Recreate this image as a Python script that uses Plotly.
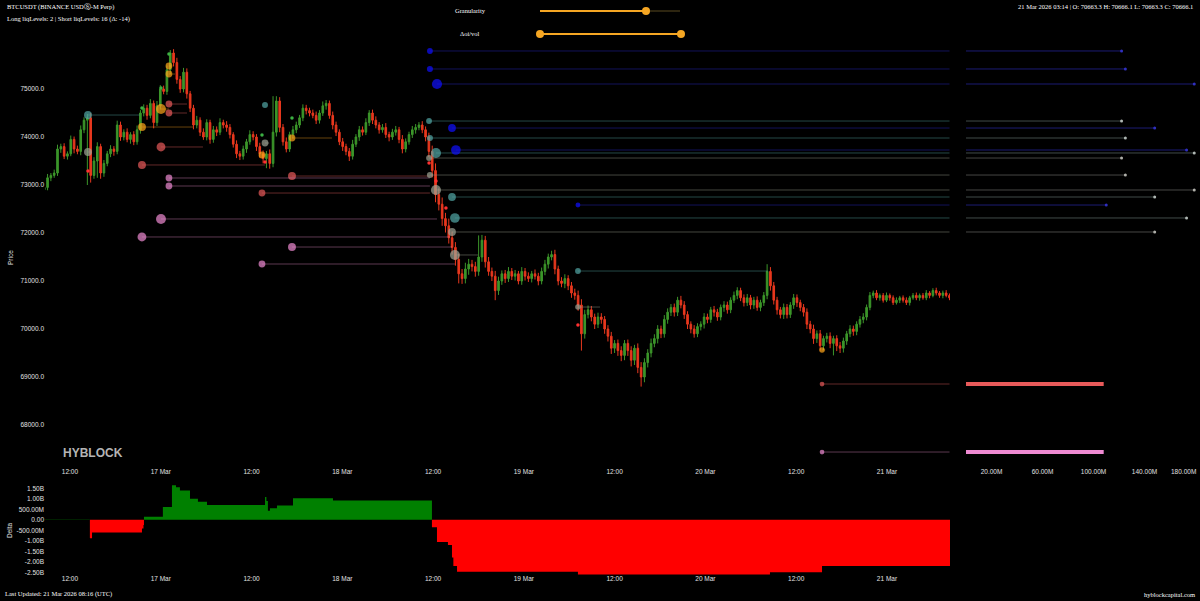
import numpy as np
import pandas as pd
import plotly.graph_objects as go

# ---------------- DATA ----------------
candle_start = "2026-03-16 08:36"
candle_end = "2026-03-21 08:16"
first_open = 72900
closes = [
    72950, 73150, 73200, 73250, 73750, 73800, 73600, 73650, 73950, 73750,
    73700, 74150, 74350, 74400, 73200, 73500, 73800, 73250, 73450, 73650,
    73750, 73700, 74250, 74000, 74100, 73950, 74050, 73900, 74150, 74500,
    74600, 74450, 74700, 74300, 74650, 75000, 74950, 75400, 75750, 75550,
    75200, 75000, 75350, 74900, 74600, 74250, 74350, 74100, 74000, 74300,
    73950, 74150, 74100, 74300, 74250, 74200, 74050, 73850, 73650, 73600,
    73750, 73900, 74050, 74000, 73800, 73650, 73550, 73650, 73450, 74100,
    74750, 74200, 73900, 73750, 74050, 74150, 74250, 74400, 74600, 74550,
    74500, 74450, 74350, 74500, 74650, 74700, 74450, 74250, 74100, 73900,
    73800, 73700, 73600, 73850, 74000, 74150, 74100, 74300, 74500, 74350,
    74250, 74150, 74200, 74050, 74000, 74100, 74150, 73950, 73750, 73900,
    74050, 74150, 74200, 74250, 74150, 74000, 73700, 73300, 72800, 72600,
    72300, 72150, 71900, 71700, 71450, 71150, 71050, 71250, 71350, 71300,
    71200, 71500, 71850, 71400, 71200, 71100, 70800, 71000, 71150, 71050,
    71200, 71100, 71150, 71000, 71200, 71100, 71050, 71150, 71100, 71000,
    71200, 71350, 71500, 71550, 71250, 71000, 70950, 71050, 70900, 70750,
    70700, 70500, 69900, 70300, 70400, 70250, 70100, 70250, 70200, 70000,
    69850, 69600, 69700, 69550, 69450, 69700, 69550, 69350, 69600, 69200,
    69000, 69300, 69500, 69700, 69800, 70000, 69900, 70200, 70350, 70450,
    70350, 70600, 70500, 70300, 70100, 70000, 69900, 70050, 70100, 70250,
    70200, 70400, 70350, 70250, 70450, 70500, 70400, 70600, 70700, 70800,
    70650, 70550, 70650, 70500, 70600, 70450, 70550, 70700, 71200, 70900,
    70600, 70400, 70300, 70450, 70300, 70500, 70650, 70550, 70450, 70350,
    70100, 70000, 69800, 69900, 69650, 69800, 69850, 69700, 69800, 69650,
    69600, 69750, 69900, 70000, 69950, 70100, 70200, 70250, 70450, 70700,
    70750, 70650, 70700, 70600, 70700, 70650, 70550, 70600, 70650, 70600,
    70550, 70650, 70700, 70650, 70700, 70650, 70750, 70700, 70800, 70750,
    70700, 70750, 70700, 70650,
]
# wick extents above max(open, close) and below min(open, close), USD
wick_up = [
    60, 80, 50, 70, 90, 60, 70, 50, 80, 60,
    70, 90, 60, 80, 100, 80, 90, 60, 70, 60,
    80, 60, 90, 70, 60, 80, 50, 70, 90, 60,
    80, 70, 90, 60, 100, 80, 70, 90, 60, 80,
    100, 70, 90, 80, 60, 70, 90, 60, 80, 70,
    60, 80, 70, 90, 60, 80, 70, 50, 80, 60,
    70, 60, 90, 70, 60, 80, 70, 60, 90, 120,
    100, 80, 70, 90, 60, 80, 70, 60, 80, 70,
    60, 70, 80, 60, 90, 70, 60, 80, 70, 60,
    80, 60, 70, 90, 60, 80, 70, 90, 60, 70,
    80, 60, 70, 90, 60, 70, 80, 60, 90, 70,
    60, 80, 70, 60, 80, 70, 90, 120, 150, 130,
    140, 120, 150, 130, 110, 120, 100, 130, 110, 90,
    100, 120, 110, 90, 100, 80, 110, 90, 70, 80,
    90, 70, 80, 60, 90, 70, 80, 60, 90, 70,
    80, 90, 70, 80, 100, 70, 80, 90, 70, 80,
    90, 100, 120, 100, 90, 80, 70, 90, 80, 70,
    80, 90, 70, 80, 90, 70, 80, 90, 70, 100,
    110, 90, 80, 100, 90, 80, 70, 90, 80, 70,
    80, 70, 90, 80, 70, 60, 80, 70, 60, 80,
    70, 60, 80, 70, 60, 80, 70, 60, 80, 70,
    60, 70, 80, 60, 70, 80, 60, 70, 100, 90,
    80, 70, 60, 80, 70, 60, 80, 70, 60, 70,
    80, 70, 90, 70, 80, 60, 70, 80, 60, 70,
    80, 70, 60, 80, 70, 60, 70, 80, 60, 70,
    50, 60, 40, 50, 60, 40, 50, 60, 40, 50,
    60, 40, 50, 60, 40, 50, 60, 40, 50, 60,
    40, 50, 60, 40,
]
wick_dn = [
    80, 60, 70, 50, 60, 80, 60, 70, 50, 90,
    60, 80, 70, 60, 150, 70, 60, 120, 80, 60,
    70, 90, 60, 80, 70, 60, 90, 70, 60, 80,
    70, 90, 60, 120, 70, 80, 60, 70, 90, 80,
    90, 80, 70, 100, 80, 90, 70, 80, 60, 70,
    90, 70, 80, 60, 70, 90, 80, 70, 90, 80,
    70, 80, 60, 70, 90, 80, 100, 70, 110, 80,
    90, 100, 80, 70, 60, 80, 70, 60, 70, 80,
    70, 60, 80, 70, 60, 80, 70, 90, 80, 70,
    90, 80, 100, 70, 60, 80, 70, 60, 70, 80,
    70, 80, 60, 70, 90, 60, 70, 80, 90, 70,
    60, 70, 80, 60, 70, 90, 120, 140, 160, 130,
    150, 140, 120, 150, 130, 140, 110, 100, 120, 100,
    110, 90, 100, 120, 90, 100, 130, 90, 80, 90,
    70, 80, 90, 70, 80, 90, 70, 80, 70, 90,
    70, 80, 90, 70, 110, 90, 80, 100, 90, 100,
    90, 120, 150, 100, 80, 90, 100, 80, 90, 100,
    110, 120, 100, 110, 120, 100, 110, 130, 100, 120,
    140, 110, 100, 90, 80, 100, 90, 80, 90, 80,
    90, 80, 70, 90, 100, 90, 80, 70, 80, 90,
    80, 70, 90, 80, 70, 90, 80, 70, 60, 80,
    70, 80, 70, 90, 80, 70, 80, 70, 80, 100,
    90, 100, 80, 90, 80, 70, 80, 90, 80, 90,
    100, 90, 110, 90, 100, 90, 80, 100, 90, 110,
    100, 90, 80, 70, 90, 80, 70, 80, 70, 60,
    60, 50, 60, 50, 40, 60, 50, 40, 60, 50,
    50, 60, 40, 50, 60, 40, 50, 60, 40, 50,
    50, 60, 40, 50,
]
spike_highs = {
    "2026-03-17 01:05": 75800, "2026-03-17 14:50": 74850,
    "2026-03-18 18:12": 71950, "2026-03-20 08:08": 71350,
    "2026-03-16 14:10": 74450,
}
spike_lows = {
    "2026-03-16 14:30": 73000, "2026-03-16 15:42": 73150,
    "2026-03-17 13:55": 73350, "2026-03-18 15:25": 70950,
    "2026-03-18 20:03": 70600, "2026-03-19 07:24": 69550,
    "2026-03-19 15:21": 68800, "2026-03-20 16:44": 69450,
}

# liquidation levels: group, start time, end time (None = still open), price, volume (M)
lvl_group = (["blue"] * 6 + ["teal"] * 8 + ["gray"] * 8 + ["orange"] * 7
             + ["red"] * 7 + ["pink"] * 7)
lvl_start = [
    "2026-03-18 11:35", "2026-03-18 11:35", "2026-03-18 12:31", "2026-03-18 14:30", "2026-03-18 15:01", "2026-03-19 07:09",
    "2026-03-16 14:23", "2026-03-17 13:47", "2026-03-18 11:28", "2026-03-18 11:35", "2026-03-18 12:23", "2026-03-18 14:30", "2026-03-18 14:53", "2026-03-19 07:09",
    "2026-03-16 14:23", "2026-03-17 13:47", "2026-03-18 11:28", "2026-03-18 11:35", "2026-03-18 12:23", "2026-03-18 14:30", "2026-03-18 14:53", "2026-03-19 07:09",
    "2026-03-16 21:31", "2026-03-17 00:02", "2026-03-17 01:05", "2026-03-17 01:05", "2026-03-17 13:23", "2026-03-17 17:21", "2026-03-20 15:25",
    "2026-03-17 00:02", "2026-03-16 21:31", "2026-03-17 01:05", "2026-03-17 01:05", "2026-03-17 17:21", "2026-03-17 13:23", "2026-03-20 15:25",
    "2026-03-17 01:05", "2026-03-17 01:05", "2026-03-17 00:02", "2026-03-16 21:31", "2026-03-17 17:21", "2026-03-17 13:23", "2026-03-20 15:25",
]
lvl_end = [
    None, None, None, None, None, None,
    "2026-03-16 21:15", "2026-03-17 13:47", None, None, None, None, None, "2026-03-20 08:16",
    "2026-03-16 14:50", "2026-03-17 14:20", None, None, None, None, "2026-03-18 17:56", "2026-03-19 10:04",
    "2026-03-17 04:16", "2026-03-17 01:05", "2026-03-17 01:29", "2026-03-17 01:53", "2026-03-17 13:47", "2026-03-17 22:38", "2026-03-20 15:50",
    "2026-03-17 05:35", "2026-03-17 13:47", "2026-03-17 03:28", "2026-03-17 03:28", "2026-03-18 11:35", "2026-03-18 11:35", None,
    "2026-03-18 11:35", "2026-03-18 11:35", "2026-03-18 12:31", "2026-03-18 14:14", "2026-03-18 14:30", "2026-03-18 14:53", None,
]
lvl_price = [
    75792, 75417, 75104, 74187, 73729, 72583,
    74458, 74667, 74333, 73979, 73667, 72750, 72313, 71208,
    73687, 73875, 73562, 73208, 72896, 72021, 71542, 70458,
    74208, 74583, 75479, 75312, 73625, 73979, 69563,
    73792, 73417, 74687, 74500, 73187, 72833, 68854,
    73146, 72979, 72292, 71917, 71708, 71354, 67437,
]
lvl_vol_m = [
    122, 125, 179, 148, 173, 110,
    150, 124, 122, 125, 179, 148, 173, 122,
    150, 135, 122, 125, 179, 148, 176, 118,
    150, 176, 135, 135, 135, 135, 118,
    162, 150, 135, 135, 150, 135, 108,
    135, 135, 176, 162, 150, 135, 108,
]
# tiny liquidation prints
tiny_group = ["green", "green", "green", "green", "green", "red", "red", "red", "red", "red", "red"]
tiny_time = ["2026-03-16 21:31", "2026-03-17 01:05", "2026-03-17 17:21", "2026-03-17 13:23", "2026-03-17 00:02",
             "2026-03-16 14:23", "2026-03-17 13:47", "2026-03-18 11:28", "2026-03-18 12:23", "2026-03-18 13:42", "2026-03-19 07:09"]
tiny_price = [74604, 75729, 74396, 74042, 75020, 73292, 73479, 73458, 73083, 72521, 70083]

# cumulative delta (billions) - step series
delta_times = ["2026-03-16 08:42", "2026-03-16 14:38", "2026-03-16 14:55", "2026-03-16 21:31", "2026-03-16 21:43",
               "2026-03-16 21:47", "2026-03-17 00:17", "2026-03-17 01:29", "2026-03-17 02:01", "2026-03-17 02:32",
               "2026-03-17 03:52", "2026-03-17 04:55", "2026-03-17 06:07", "2026-03-17 13:47", "2026-03-17 13:58",
               "2026-03-17 14:10", "2026-03-17 14:26", "2026-03-17 15:22", "2026-03-17 17:29", "2026-03-17 22:46",
               "2026-03-18 11:51", "2026-03-18 12:31", "2026-03-18 13:58", "2026-03-18 14:30", "2026-03-18 14:41",
               "2026-03-18 15:10", "2026-03-19 07:09", "2026-03-20 08:32", "2026-03-20 15:25", "2026-03-21 08:20"]
delta_vals_b = [0.02, -0.88, -0.6, -0.42, -0.25, 0.15, 0.61, 1.65, 1.55, 1.40, 1.00, 0.86, 0.70, 1.08, 0.90,
                0.43, 0.55, 0.68, 1.03, 0.92, -0.36, -1.06, -1.2, -1.8, -2.2, -2.47, -2.6, -2.5, -2.2, -2.2]

# tick labels
date_tick_vals = ["2026-03-16 12:00", "2026-03-17 00:00", "2026-03-17 12:00", "2026-03-18 00:00", "2026-03-18 12:00",
                  "2026-03-19 00:00", "2026-03-19 12:00", "2026-03-20 00:00", "2026-03-20 12:00", "2026-03-21 00:00"]
date_tick_text = ["12:00", "17 Mar", "12:00", "18 Mar", "12:00", "19 Mar", "12:00", "20 Mar", "12:00", "21 Mar"]
price_ticks = [68000, 69000, 70000, 71000, 72000, 73000, 74000, 75000]
delta_tick_vals_b = [-2.5, -2.0, -1.5, -1.0, -0.5, 0.0, 0.5, 1.0, 1.5]
delta_tick_text = ["-2.50B", "-2.00B", "-1.50B", "-1.00B", "-500.00M", "0.00", "500.00M", "1.00B", "1.50B"]
vol_tick_vals_m = [20, 60, 100, 140]
vol_tick_text = ["20.00M", "60.00M", "100.00M", "140.00M"]
vol_edge_label = "180.00M"

# ---------------- FIGURE ----------------
W, H = 1200, 601
def fx(p): return p / W
def fy(p): return 1 - p / H

MAIN_L, MAIN_R, MAIN_T, MAIN_B = 45, 950, 45, 464
RP_L, RP_PX_PER_M = 966, 1.275
D_T, D_B = 482, 576

# candles
ts = pd.date_range(candle_start, candle_end, periods=len(closes))
opens = [first_open] + closes[:-1]
highs = [max(o, c) + w for o, c, w in zip(opens, closes, wick_up)]
lows = [min(o, c) - w for o, c, w in zip(opens, closes, wick_dn)]
for t, v in spike_highs.items():
    i = int(np.argmin(np.abs(ts - pd.Timestamp(t))))
    highs[i] = max(highs[i], v)
for t, v in spike_lows.items():
    i = int(np.argmin(np.abs(ts - pd.Timestamp(t))))
    lows[i] = min(lows[i], v)

fig = go.Figure()
fig.add_trace(go.Candlestick(
    x=ts, open=opens, high=highs, low=lows, close=closes,
    increasing=dict(line=dict(color="#3c962a", width=1), fillcolor="#3c962a"),
    decreasing=dict(line=dict(color="#e8381e", width=1), fillcolor="#e8381e"),
    whiskerwidth=0, xaxis="x", yaxis="y", showlegend=False, hoverinfo="skip"))

marker_col = {"blue": "#1010ff", "teal": "#52a8a6", "gray": "#9fa596", "orange": "#ffa51a",
              "red": "#e85a5a", "pink": "#ee8ad2"}
line_col = {"blue": "rgba(40,40,200,0.45)", "teal": "rgba(80,160,155,0.45)", "gray": "rgba(150,155,140,0.45)",
            "orange": "rgba(255,165,30,0.40)", "red": "rgba(220,90,90,0.45)", "pink": "rgba(230,140,200,0.40)"}

def msize(v):
    return 0.0763 * v - 3.5

for g in ["red", "pink", "orange", "gray", "teal", "blue"]:
    xs, ys = [], []
    mx, my, ms = [], [], []
    for grp, s, e, p, v in zip(lvl_group, lvl_start, lvl_end, lvl_price, lvl_vol_m):
        if grp != g:
            continue
        end = e if e is not None else candle_end
        xs += [s, end, None]
        ys += [p, p, None]
        mx.append(s); my.append(p); ms.append(msize(v))
    fig.add_trace(go.Scatter(x=xs, y=ys, mode="lines", line=dict(color=line_col[g], width=1),
                             xaxis="x", yaxis="y", showlegend=False, hoverinfo="skip"))
    fig.add_trace(go.Scatter(x=mx, y=my, mode="markers", marker=dict(color=marker_col[g], size=ms, line=dict(width=0)),
                             xaxis="x", yaxis="y", showlegend=False, hoverinfo="skip"))

tiny_col = {"green": "#3cb043", "red": "#ff3030"}
for g in ["green", "red"]:
    fig.add_trace(go.Scatter(
        x=[t for gg, t in zip(tiny_group, tiny_time) if gg == g],
        y=[p for gg, p in zip(tiny_group, tiny_price) if gg == g],
        mode="markers", marker=dict(color=tiny_col[g], size=3.5), xaxis="x", yaxis="y",
        showlegend=False, hoverinfo="skip"))

# right panel: open levels by volume
rp_line_col = {"blue": "rgba(50,50,210,0.55)", "teal": "rgba(130,150,145,0.5)", "gray": "rgba(140,140,135,0.5)"}
rp_dot_col = {"blue": "#3030c0", "teal": "#b0b8b4", "gray": "#b0b0aa"}
for g in ["blue", "teal", "gray"]:
    xs, ys, dx, dy = [], [], [], []
    for grp, e, p, v in zip(lvl_group, lvl_end, lvl_price, lvl_vol_m):
        if grp == g and e is None:
            xs += [0, v * 1e6, None]
            ys += [p, p, None]
            dx.append(v * 1e6); dy.append(p)
    fig.add_trace(go.Scatter(x=xs, y=ys, mode="lines", line=dict(color=rp_line_col[g], width=1),
                             xaxis="x2", yaxis="y2", showlegend=False, hoverinfo="skip"))
    fig.add_trace(go.Scatter(x=dx, y=dy, mode="markers", marker=dict(color=rp_dot_col[g], size=3),
                             xaxis="x2", yaxis="y2", showlegend=False, hoverinfo="skip"))
for g in ["red", "pink"]:
    for grp, e, p, v in zip(lvl_group, lvl_end, lvl_price, lvl_vol_m):
        if grp == g and e is None:
            fig.add_trace(go.Scatter(x=[0, v * 1e6], y=[p, p], mode="lines",
                                     line=dict(color=marker_col[g], width=4),
                                     xaxis="x2", yaxis="y2", showlegend=False, hoverinfo="skip"))

# delta panel
dv = np.array(delta_vals_b) * 1e9
pos = np.where(dv > 0, dv, 0)
neg = np.where(dv < 0, dv, 0)
fig.add_trace(go.Scatter(x=delta_times, y=pos, mode="lines", line=dict(color="#008000", width=0, shape="hv"),
                         fill="tozeroy", fillcolor="#008000", xaxis="x3", yaxis="y3",
                         showlegend=False, hoverinfo="skip"))
fig.add_trace(go.Scatter(x=delta_times, y=neg, mode="lines", line=dict(color="#ff0000", width=0, shape="hv"),
                         fill="tozeroy", fillcolor="#ff0000", xaxis="x3", yaxis="y3",
                         showlegend=False, hoverinfo="skip"))

tickfont = dict(family="Liberation Sans, Arial", size=6.5, color="#e0e0e0")
x_range = ["2026-03-16 08:42", "2026-03-21 08:20"]
p_lo = 68000 - (MAIN_B - 425) / 0.048
p_hi = 75000 + (89 - MAIN_T) / 0.048
d_hi = (519.8 - D_T) / 21.0
d_lo = -(D_B - 519.8) / 21.0

fig.update_layout(
    width=W, height=H, margin=dict(l=0, r=0, t=0, b=0),
    paper_bgcolor="#000000", plot_bgcolor="#000000",
    xaxis=dict(domain=[fx(MAIN_L), fx(MAIN_R)], type="date", range=x_range, anchor="y",
               tickvals=date_tick_vals, ticktext=date_tick_text, tickfont=tickfont, ticklabelstandoff=2,
               showgrid=False, zeroline=False, showline=False, ticks="", rangeslider=dict(visible=False)),
    yaxis=dict(domain=[fy(MAIN_B), fy(MAIN_T)], range=[p_lo, p_hi], anchor="x",
               tickvals=price_ticks, tickformat=".1f", tickfont=tickfont,
               showgrid=False, zeroline=False, showline=False, ticks=""),
    xaxis2=dict(domain=[fx(RP_L), 1.0], range=[0, (W - RP_L) / RP_PX_PER_M * 1e6], anchor="y2",
                tickvals=[v * 1e6 for v in vol_tick_vals_m], ticktext=vol_tick_text, tickfont=tickfont,
                ticklabelstandoff=2,
                showgrid=False, zeroline=False, showline=False, ticks=""),
    yaxis2=dict(domain=[fy(MAIN_B), fy(MAIN_T)], range=[p_lo, p_hi], anchor="x2", matches="y",
                showticklabels=False, showgrid=False, zeroline=False, showline=False, ticks=""),
    xaxis3=dict(domain=[fx(MAIN_L), fx(MAIN_R)], type="date", range=x_range, anchor="y3", matches="x",
                tickvals=date_tick_vals, ticktext=date_tick_text, tickfont=tickfont, ticklabelstandoff=-3,
                showgrid=False, zeroline=False, showline=False, ticks=""),
    yaxis3=dict(domain=[fy(D_B), fy(D_T)], range=[d_lo * 1e9, d_hi * 1e9], anchor="x3",
                tickvals=[v * 1e9 for v in delta_tick_vals_b], ticktext=delta_tick_text, tickfont=tickfont,
                showgrid=False, zeroline=False, showline=False, ticks=""),
)

serif = dict(family="Liberation Serif, Times New Roman", size=6.5, color="#ffffff")
sans_small = dict(family="Liberation Sans, Arial", size=6.5, color="#e0e0e0")
ann = [
    dict(x=fx(5), y=fy(7), text="BTCUSDT (BINANCE USDⓈ-M Perp)", xanchor="left", font=serif),
    dict(x=fx(5), y=fy(19), text="Long liqLevels: 2 | Short liqLevels: 16 (Δ: -14)", xanchor="left", font=serif),
    dict(x=fx(1195), y=fy(7), text="21 Mar 2026 03:14 | O: 70663.3 H: 70666.1 L: 70663.3 C: 70666.1",
         xanchor="right", font=serif),
    dict(x=fx(470), y=fy(11), text="Granularity", xanchor="center", font=serif),
    dict(x=fx(470), y=fy(34), text="Δoi/vol", xanchor="center", font=serif),
    dict(x=fx(3), y=fy(594), text="Last Updated: 21 Mar 2026 08:16 (UTC)", xanchor="left", font=serif),
    dict(x=fx(1197), y=fy(594), text="hyblockcapital.com", xanchor="right", font=serif),
    dict(x=fx(61), y=fy(453), text="<b>HYBLOCK</b>", xanchor="left",
         font=dict(family="Liberation Sans, Arial", size=12, color="#b4b4b4")),
    dict(x=fx(10), y=fy(258), text="Price", textangle=-90, xanchor="center", font=sans_small),
    dict(x=fx(9), y=fy(530), text="Delta", textangle=-90, xanchor="center", font=sans_small),
    dict(x=fx(1198), y=fy(471), text=vol_edge_label, xanchor="right", font=sans_small),
]
for a in ann:
    a.update(xref="paper", yref="paper", yanchor="middle", showarrow=False)
fig.update_layout(annotations=ann)

orange = "#f5a623"
shapes = [
    dict(type="line", x0=fx(540), x1=fx(646), y0=fy(11), y1=fy(11), line=dict(color=orange, width=2)),
    dict(type="line", x0=fx(646), x1=fx(680), y0=fy(11), y1=fy(11), line=dict(color="#5a4a20", width=1)),
    dict(type="line", x0=fx(540), x1=fx(681), y0=fy(34), y1=fy(34), line=dict(color=orange, width=2)),
]
for cx, cy in [(646, 11), (540, 34), (681, 34)]:
    shapes.append(dict(type="circle", x0=fx(cx - 4), x1=fx(cx + 4), y0=fy(cy + 4), y1=fy(cy - 4),
                       fillcolor=orange, line=dict(width=0)))
for s in shapes:
    s.update(xref="paper", yref="paper")
fig.update_layout(shapes=shapes)

fig.write_html("out.html", config={"displayModeBar": False},
               post_script="document.body.style.margin='0';document.body.style.overflow='hidden';")
